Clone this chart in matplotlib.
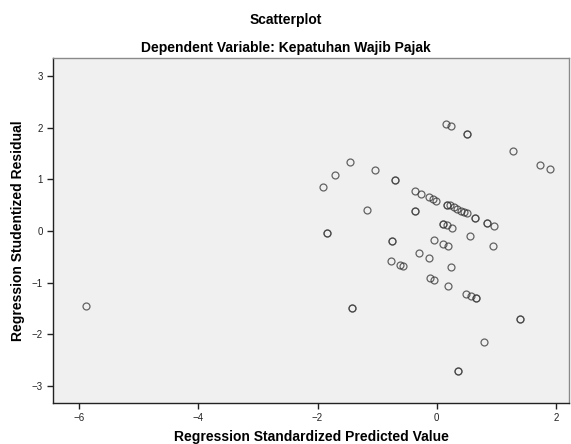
import matplotlib
matplotlib.use("Agg")
import matplotlib.pyplot as plt
import numpy as np

plt.rcParams['font.family'] = ['Liberation Sans', 'DejaVu Sans']

# standardized predicted values (x) and studentized residuals (y)
pred = [-5.884, -1.911, -1.705, -1.453, -1.034, -0.699, -1.844, -1.163, -0.369, -0.754,
        -0.364, -0.268, -0.124, -0.067, -0.012, 0.168, 0.223, 0.290, 0.345, 0.402,
        0.458, 0.503, 0.647, 0.852, 0.966, 0.097, 0.168, 0.253, 0.558, -0.050,
        0.111, 0.184, 0.947, -0.293, -0.124, -0.771, -0.615, -0.570, 0.235, -0.112,
        -0.045, 0.189, 0.491, 0.567, 0.659, -1.415, 1.397, 0.798, 0.362, 0.156,
        0.240, 0.503, 1.284, 1.732, 1.899]
resid = [-1.446, 0.852, 1.084, 1.335, 1.175, 0.993, -0.039, 0.401, 0.381, -0.199,
         0.774, 0.722, 0.652, 0.619, 0.586, 0.509, 0.497, 0.470, 0.432, 0.393,
         0.362, 0.343, 0.257, 0.155, 0.097, 0.145, 0.116, 0.068, -0.087, -0.165,
         -0.252, -0.284, -0.290, -0.430, -0.513, -0.581, -0.664, -0.683, -0.703, -0.915,
         -0.943, -1.070, -1.219, -1.258, -1.306, -1.490, -1.709, -2.154, -2.715, 2.071,
         2.026, 1.883, 1.554, 1.272, 1.194]
# cases that sit on top of each other (drawn darker in the original)
dup_pred = [-0.699, -1.844, -0.369, -0.754, 0.168, 0.647, 0.852, 0.097, 0.659,
            -1.415, 1.397, 0.362, 0.503]
dup_resid = [0.993, -0.039, 0.381, -0.199, 0.509, 0.257, 0.155, 0.145, -1.306,
             -1.490, -1.709, -2.715, 1.883]

x_ticks = [-6, -4, -2, 0, 2]
y_ticks = [-3, -2, -1, 0, 1, 2, 3]

fig = plt.figure(figsize=(5.71, 4.44), dpi=100)
ax = fig.add_axes([0.0928, 0.0923, 0.9037, 0.777])
ax.set_facecolor('#f0f0f0')

ax.plot(pred, resid, 'o', markersize=5, markerfacecolor='none',
        markeredgecolor='#333333', markeredgewidth=0.9, alpha=0.75)
ax.plot(dup_pred, dup_resid, 'o', markersize=5, markerfacecolor='none',
        markeredgecolor='#333333', markeredgewidth=0.9, alpha=0.6)

ax.set_xlim(-6.44, 2.22)
ax.set_ylim(-3.33, 3.35)
ax.set_xticks(x_ticks)
ax.set_yticks(y_ticks)
ax.tick_params(direction='out', length=4, width=1, labelsize=7, colors='#222222')

ax.spines['left'].set_color('#222222')
ax.spines['bottom'].set_color('#222222')
ax.spines['top'].set_color('#8a8a8a')
ax.spines['right'].set_color('#8a8a8a')
for s in ax.spines.values():
    s.set_linewidth(1.0)

ax.set_xlabel('Regression Standardized Predicted Value', fontsize=10,
              fontweight='bold', labelpad=5)
ax.set_ylabel('Regression Studentized Residual', fontsize=10,
              fontweight='bold', labelpad=5)

fig.text(0.5, 0.955, 'Scatterplot', ha='center', va='center',
         fontsize=10, fontweight='bold')
fig.text(0.5, 0.893, 'Dependent Variable: Kepatuhan Wajib Pajak', ha='center',
         va='center', fontsize=10, fontweight='bold')

fig.savefig('out.png', dpi=100)
